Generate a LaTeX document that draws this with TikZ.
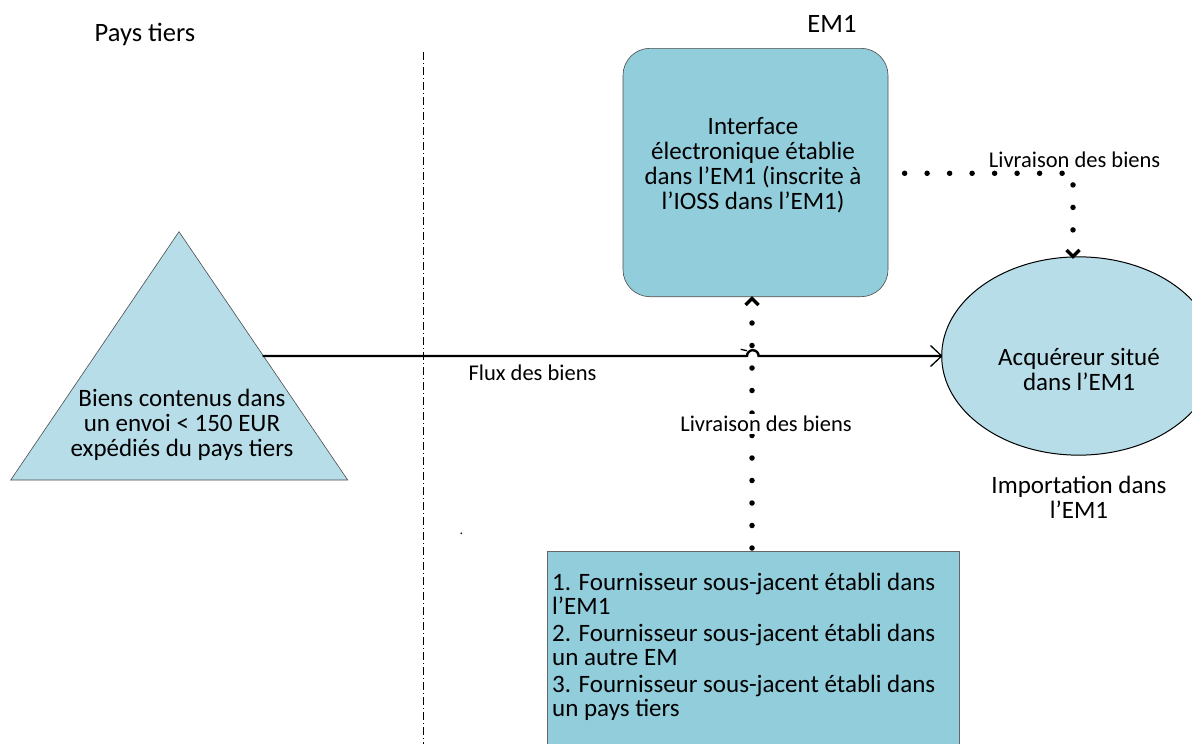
\documentclass[tikz,border=0pt]{standalone}
\usepackage{fontspec}
\setmainfont{Carlito}
\usetikzlibrary{arrows.meta,shapes.geometric}
\definecolor{boxblue}{HTML}{92CDDC}
\definecolor{lightblue}{HTML}{B6DDE8}
\tikzset{
  big/.style={font=\fontsize{25}{25}\selectfont, inner sep=0pt, align=center},
  head/.style={font=\fontsize{26.5}{28}\selectfont, inner sep=0pt},
  lbl/.style={font=\fontsize{22.5}{24}\selectfont, inner sep=1pt},
  dotline/.style={line width=5.5pt, line cap=round, dash pattern=on 0pt off 22.5pt},
  chevron/.style={line width=3.4pt, line cap=butt, line join=miter},
}
\begin{document}
\begin{tikzpicture}[x=1pt,y=-1pt]
\useasboundingbox (0,0) rectangle (1192,744);
\fill[white] (0,0) rectangle (1192,744);
% headings
\node[head, anchor=base] (pt) at (145,41) {Pays tiers};
\node[head, anchor=base] (em) at (832,32) {EM1};
% border
\coordinate (b1) at (423.3,52);
\coordinate (b2) at (423.3,744);
\draw[line width=0.9pt, dash pattern=on 8pt off 3pt on 1pt off 3pt] (b1) -- (b2);
% stray dot
\fill (461.3,533.3) circle (0.9pt);
% triangle
\coordinate (ta) at (179,231.7);
\coordinate (tl) at (10.7,480);
\coordinate (tr) at (347.7,480);
\draw[fill=lightblue, draw=black!70, line width=0.6pt] (tl) -- (ta) -- (tr) -- cycle;
\node[big] (tt) at (182,425) {Biens contenus dans\\un envoi < 150 EUR\\expédiés du pays tiers};
\coordinate (tout) at (262.7,356);
% interface box
\node[draw=black!70, line width=0.6pt, fill=boxblue, rounded corners=27pt, minimum width=265pt, minimum height=248.4pt, inner sep=0pt] (iface) at (755.5,172.5) {};
\node[big] (ifacet) at (753,165) {Interface\\électronique établie\\dans l’EM1 (inscrite à\\l’IOSS dans l’EM1)};
% ellipse
\node[draw=black, line width=1pt, fill=lightblue, ellipse, minimum width=274pt, minimum height=198.3pt, inner sep=0pt] (acq) at (1078.7,356) {};
\node[big] (acqt) at (1079,369.5) {Acquéreur situé\\dans l’EM1};
\node[big] (imp) at (1079,497) {Importation dans\\l’EM1};
% bottom box
\node[draw=black!60, line width=0.6pt, fill=boxblue, minimum width=412pt, minimum height=220pt, anchor=north west, inner sep=0pt] (four) at (546.7,551) {};
\node[font=\fontsize{25}{24.5}\selectfont, inner sep=0pt, align=left, anchor=north west] (fourt) at (552,572.5)
 {1. Fournisseur sous-jacent établi dans\\l’EM1\\[2pt]2. Fournisseur sous-jacent établi dans\\un autre EM\\[2pt]3. Fournisseur sous-jacent établi dans\\un pays tiers};
% flux arrow with hop
\coordinate (h1) at (747,356);
\draw[line width=2.4pt] (tout) -- (h1) arc[start angle=180, end angle=0, radius=5.8pt]
  -- (acq.west) ;
\draw[line width=1.3pt] (930.5,345.5) -- (941.7,356) -- (930.5,366.5);
\draw[line width=1.3pt] (740.7,349.3) -- (747,350.7);
\node[lbl] (flux) at (532.5,373) {Flux des biens};
% vertical dotted delivery
\coordinate (v1) at (752,548);
\coordinate (v2) at (752,297);
\draw[dotline] (v1) -- (752,304);
\draw[chevron] (745.5,305) -- (752,298.5) -- (758.5,305);
\node[lbl, fill=white, inner sep=0pt, inner ysep=2pt] (liv1) at (766,424) {Livraison des biens};
% top dotted delivery
\coordinate (d1) at (904.6,173.3);
\coordinate (d2) at (1073,173.3);
\draw[dotline] (d1) -- (d2) -- (1073,250);
\draw[chevron] (1066.5,250) -- (1073,256.5) -- (1079.5,250);
\node[lbl] (liv2) at (1074.6,160) {Livraison des biens};
\end{tikzpicture}
\end{document}
